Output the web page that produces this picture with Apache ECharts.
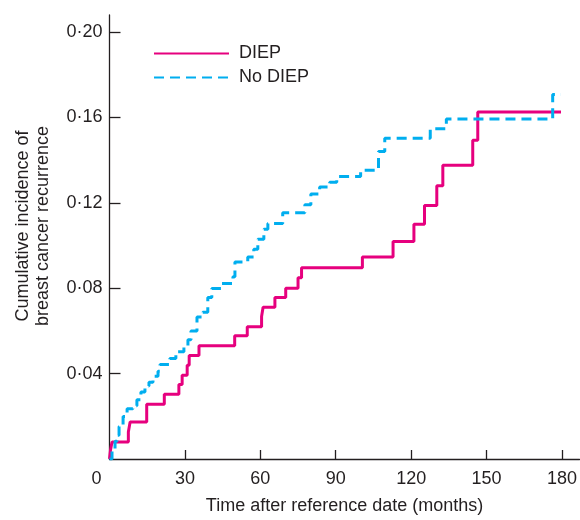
<!DOCTYPE html>
<html lang="en">
<head>
<meta charset="UTF-8">
<title>Cumulative incidence of breast cancer recurrence</title>
<script src="https://cdn.jsdelivr.net/npm/echarts@6.0.0/dist/echarts.min.js"></script>
<style>
  html, body { margin: 0; padding: 0; background: #fff; }
  #chart { width: 580px; height: 520px; }
</style>
</head>
<body>
<div id="chart"></div>
<script>
  // [months, cumulative incidence] - each value holds until the next point
  var diep = [
    [0, 0], [0.4, 0.0042], [1.0, 0.0080], [7.5, 0.0127], [8.2, 0.0173],
    [14.8, 0.0257], [21.8, 0.0303], [27.6, 0.0349], [28.9, 0.0392], [30.9, 0.0439],
    [31.7, 0.0485], [35.6, 0.0531], [49.8, 0.0577], [54.8, 0.0619], [60.5, 0.0668],
    [61.1, 0.0711], [65.8, 0.0757], [70.1, 0.0800], [75.0, 0.0849], [76.4, 0.0896],
    [100.6, 0.0946], [112.8, 0.1019], [121.1, 0.1100], [125.3, 0.1188], [130.2, 0.1280],
    [132.6, 0.1376], [144.5, 0.1493], [146.5, 0.1626], [179.6, 0.1626]
  ];
  var noDiep = [
    [0, 0], [1.0, 0.0042], [2.2, 0.0083], [3.0, 0.0111], [3.8, 0.0152],
    [5.4, 0.0199], [7.0, 0.0235], [9.3, 0.0249], [10.9, 0.0277], [12.5, 0.0314],
    [14.1, 0.0342], [15.7, 0.0360], [17.3, 0.0388], [19.3, 0.0411], [20.1, 0.0443],
    [24.0, 0.0471], [26.4, 0.0503], [29.6, 0.0531], [31.2, 0.0559], [32.4, 0.0600],
    [34.8, 0.0665], [37.1, 0.0688], [39.1, 0.0757], [40.7, 0.0799], [44.7, 0.0822],
    [49.1, 0.0854], [49.9, 0.0923], [55.0, 0.0946], [57.4, 0.0983], [59.0, 0.1030],
    [61.4, 0.1076], [63.0, 0.1103], [68.9, 0.1154], [77.7, 0.1191], [80.1, 0.1242],
    [83.6, 0.1274], [87.6, 0.1297], [90.4, 0.1323], [99.9, 0.1353], [107.0, 0.1440],
    [109.5, 0.1503], [127.6, 0.1547], [134.0, 0.1593], [176.3, 0.1708], [179.6, 0.1708]
  ];
  var xTicks = [0, 30, 60, 90, 120, 150, 180];
  var yTicks = [0.04, 0.08, 0.12, 0.16, 0.20];
  var yTickLabels = ['0·04', '0·08', '0·12', '0·16', '0·20'];

  var font = "'Liberation Sans', Arial, sans-serif";
  var ink = '#231f20';

  var myChart = echarts.init(document.getElementById('chart'));
  var option = {
    animation: false,
    grid: {left: 109.5, top: 15, right: 0, bottom: 56},
    legend: {
      orient: 'vertical',
      left: 148,
      top: 39.5,
      itemWidth: 75,
      itemHeight: 14,
      itemGap: 6,
      itemStyle: {opacity: 0},
      textStyle: {fontFamily: font, fontSize: 18, color: ink, padding: [0, 0, 0, 5]},
      data: ['DIEP', 'No DIEP']
    },
    xAxis: {
      type: 'value',
      min: 0,
      max: 187,
      interval: 30,
      name: 'Time after reference date (months)',
      nameLocation: 'middle',
      nameGap: 38,
      nameTextStyle: {fontFamily: font, fontSize: 18, color: ink},
      splitLine: {show: false},
      axisLine: {lineStyle: {color: ink, width: 1.3}},
      axisTick: {inside: true, length: 9, customValues: xTicks.slice(1), lineStyle: {color: ink, width: 1.3}},
      axisLabel: {
        customValues: xTicks,
        margin: 11,
        fontFamily: font, fontSize: 18, color: ink,
        formatter: function (v) { return v === 0 ? '{z|0}' : String(v); },
        rich: {z: {fontFamily: font, fontSize: 18, color: ink, padding: [0, 26, 0, 0]}}
      }
    },
    yAxis: {
      type: 'value',
      min: 0,
      max: 0.208,
      interval: 0.04,
      name: 'Cumulative incidence of\nbreast cancer recurrence',
      nameLocation: 'middle',
      nameGap: 56,
      nameTextStyle: {fontFamily: font, fontSize: 18, color: ink, lineHeight: 20, padding: [0, 0, 0, 22]},
      splitLine: {show: false},
      axisLine: {lineStyle: {color: ink, width: 1.3}},
      axisTick: {inside: true, length: 11, customValues: yTicks, lineStyle: {color: ink, width: 1.3}},
      axisLabel: {
        customValues: yTicks,
        margin: 7,
        fontFamily: font, fontSize: 18, color: ink,
        formatter: function (v) {
          for (var i = 0; i < yTicks.length; i++) {
            if (Math.abs(yTicks[i] - v) < 1e-6) return yTickLabels[i];
          }
          return '';
        }
      }
    },
    series: [
      {
        name: 'DIEP',
        type: 'line',
        step: 'end',
        symbol: 'none',
        data: diep,
        color: '#e6007e',
        lineStyle: {color: '#e6007e', width: 3}
      },
      {
        name: 'No DIEP',
        type: 'line',
        step: 'end',
        symbol: 'none',
        data: noDiep,
        color: '#00aeef',
        lineStyle: {color: '#00aeef', width: 3, type: [10, 6]}
      }
    ]
  };
  myChart.setOption(option);
</script>
</body>
</html>
